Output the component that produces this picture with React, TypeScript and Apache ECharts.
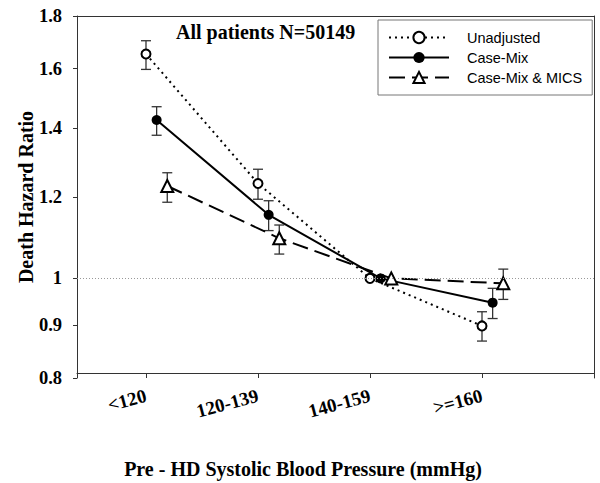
import React, { useEffect, useRef } from "react";
import * as echarts from "echarts";

const categories = ["<120", "120-139", "140-159", ">=160"];
const yTickValues = [0.8, 0.9, 1, 1.2, 1.4, 1.6, 1.8];

const unadjusted = [1.653, 1.237, 1.0, 0.899];
const unadjustedLow = [1.597, 1.194, 1.0, 0.869];
const unadjustedHigh = [1.703, 1.277, 1.0, 0.928];

const caseMix = [1.426, 1.153, 1.0, 0.947];
const caseMixLow = [1.378, 1.113, 1.0, 0.914];
const caseMixHigh = [1.469, 1.19, 1.0, 0.978];

const mics = [1.23, 1.094, 1.0, 0.989];
const micsLow = [1.186, 1.056, 1.0, 0.954];
const micsHigh = [1.267, 1.127, 1.0, 1.021];

const seriesNames = ["Unadjusted", "Case-Mix", "Case-Mix & MICS"];
const xOffsets = [0, 0.095, 0.19];

const SERIF = '"Liberation Serif", "Times New Roman", serif';
const SANS = '"Liberation Sans", Arial, sans-serif';

const pts = (vals: number[], off: number) => vals.map((v, i) => [i + off, Math.log(v)]);
const bars = (lo: number[], hi: number[], off: number) =>
  lo.map((l, i) => [i + off, Math.log(l), Math.log(hi[i])]);

const errorRender = (params: any, api: any) => {
  const x = api.value(0);
  const l = api.value(1);
  const h = api.value(2);
  if (Math.abs(h - l) < 1e-9) return null;
  const a = api.coord([x, l]);
  const b = api.coord([x, h]);
  const w = 5;
  const st = { stroke: "#333", lineWidth: 1.3 };
  return {
    type: "group",
    children: [
      { type: "line", shape: { x1: a[0], y1: a[1], x2: b[0], y2: b[1] }, style: st },
      { type: "line", shape: { x1: a[0] - w, y1: a[1], x2: a[0] + w, y2: a[1] }, style: st },
      { type: "line", shape: { x1: b[0] - w, y1: b[1], x2: b[0] + w, y2: b[1] }, style: st },
    ],
  };
};

export default function App() {
  const ref = useRef<HTMLDivElement>(null);
  useEffect(() => {
    if (!ref.current) return;
    const chart = echarts.init(ref.current, undefined, { renderer: "svg" });
    const yMin = Math.log(0.8) - 1e-6;
    const yMax = Math.log(1.8) + 1e-6;
    const axisLine = { show: true, onZero: false, lineStyle: { color: "#333", width: 1 } };
    const option: any = {
      animation: false,
      backgroundColor: "#fff",
      title: {
        text: "All patients N=50149",
        left: 176,
        top: 22,
        padding: 0,
        textStyle: { fontFamily: SERIF, fontWeight: "bold", fontSize: 20, color: "#000" },
      },
      legend: {
        orient: "vertical",
        left: 378,
        top: 20,
        padding: [10, 10, 10, 10],
        itemWidth: 60,
        itemHeight: 14,
        itemGap: 5,
        borderColor: "#777",
        borderWidth: 1,
        data: seriesNames,
        textStyle: { fontFamily: SANS, fontSize: 14.5, color: "#000", padding: [0, 0, 0, 13] },
      },
      grid: { left: 77, right: 6, top: 16, bottom: 105, outerBoundsMode: "none" },
      xAxis: [
        {
          type: "value",
          min: -0.616,
          max: 4,
          offset: -5,
          axisLine,
          splitLine: { show: false },
          axisTick: { show: true, length: 5, customValues: [0, 1, 2, 3, 4], lineStyle: { color: "#333" } },
          axisLabel: {
            customValues: [0, 1, 2, 3],
            formatter: (v: number) => categories[Math.round(v)] ?? "",
            rotate: 15,
            margin: 22,
            fontFamily: SERIF,
            fontWeight: "bold",
            fontSize: 19,
            color: "#000",
          },
        },
        {
          type: "value",
          position: "top",
          min: -0.616,
          max: 4,
          axisLine,
          axisTick: { show: false },
          axisLabel: { show: false },
          splitLine: { show: false },
        },
      ],
      yAxis: [
        {
          type: "value",
          position: "left",
          min: yMin,
          max: yMax,
          axisLine,
          splitLine: { show: false },
          axisTick: {
            show: true,
            length: 4,
            customValues: yTickValues.map((v) => Math.log(v)),
            lineStyle: { color: "#333" },
          },
          axisLabel: {
            customValues: yTickValues.map((v) => Math.log(v)),
            formatter: (v: number) => String(Math.round(Math.exp(v) * 10) / 10),
            margin: 15,
            fontFamily: SERIF,
            fontWeight: "bold",
            fontSize: 18.5,
            color: "#000",
          },
        },
        {
          type: "value",
          position: "right",
          min: yMin,
          max: yMax,
          axisLine,
          axisTick: { show: false },
          axisLabel: { show: false },
          splitLine: { show: false },
        },
      ],
      graphic: [
        {
          type: "text",
          x: 26,
          y: 197,
          rotation: Math.PI / 2,
          style: {
            text: "Death Hazard Ratio",
            fontFamily: SERIF,
            fontWeight: "bold",
            fontSize: 20,
            fill: "#000",
            align: "center",
            verticalAlign: "middle",
          },
        },
        {
          type: "text",
          x: 303,
          y: 469,
          style: {
            text: "Pre - HD Systolic Blood Pressure (mmHg)",
            fontFamily: SERIF,
            fontWeight: "bold",
            fontSize: 20,
            fill: "#000",
            align: "center",
            verticalAlign: "middle",
          },
        },
      ],
      series: [
        {
          type: "custom",
          name: "errUnadj",
          renderItem: errorRender,
          data: bars(unadjustedLow, unadjustedHigh, xOffsets[0]),
          encode: { x: 0, y: [1, 2] },
          z: 1,
          silent: true,
        },
        {
          type: "custom",
          name: "errCase",
          renderItem: errorRender,
          data: bars(caseMixLow, caseMixHigh, xOffsets[1]),
          encode: { x: 0, y: [1, 2] },
          z: 1,
          silent: true,
        },
        {
          type: "custom",
          name: "errMics",
          renderItem: errorRender,
          data: bars(micsLow, micsHigh, xOffsets[2]),
          encode: { x: 0, y: [1, 2] },
          z: 1,
          silent: true,
        },
        {
          type: "line",
          name: seriesNames[0],
          data: pts(unadjusted, xOffsets[0]),
          symbol: "emptyCircle",
          symbolSize: 9,
          lineStyle: { color: "#000", width: 2, type: [2, 4] },
          itemStyle: { color: "#000", borderColor: "#000", borderWidth: 1 },
          z: 3,
          markLine: {
            silent: true,
            symbol: "none",
            label: { show: false },
            lineStyle: { color: "#999", width: 1, type: [1, 2] },
            data: [{ yAxis: 0 }],
          },
        },
        {
          type: "line",
          name: seriesNames[1],
          data: pts(caseMix, xOffsets[1]),
          symbol: "circle",
          symbolSize: 10,
          lineStyle: { color: "#000", width: 2, type: "solid" },
          itemStyle: { color: "#000" },
          z: 3,
        },
        {
          type: "line",
          name: seriesNames[2],
          data: pts(mics, xOffsets[2]),
          symbol: "emptyTriangle",
          symbolSize: 12,
          lineStyle: { color: "#000", width: 2, type: [16, 7] },
          itemStyle: { color: "#000", borderColor: "#000", borderWidth: 1 },
          z: 3,
        },
      ],
    };
    chart.setOption(option);
    return () => chart.dispose();
  }, []);
  return (
    <div
      ref={ref}
      style={{ position: "fixed", left: 0, top: 0, width: 600, height: 483, background: "#fff" }}
    />
  );
}
